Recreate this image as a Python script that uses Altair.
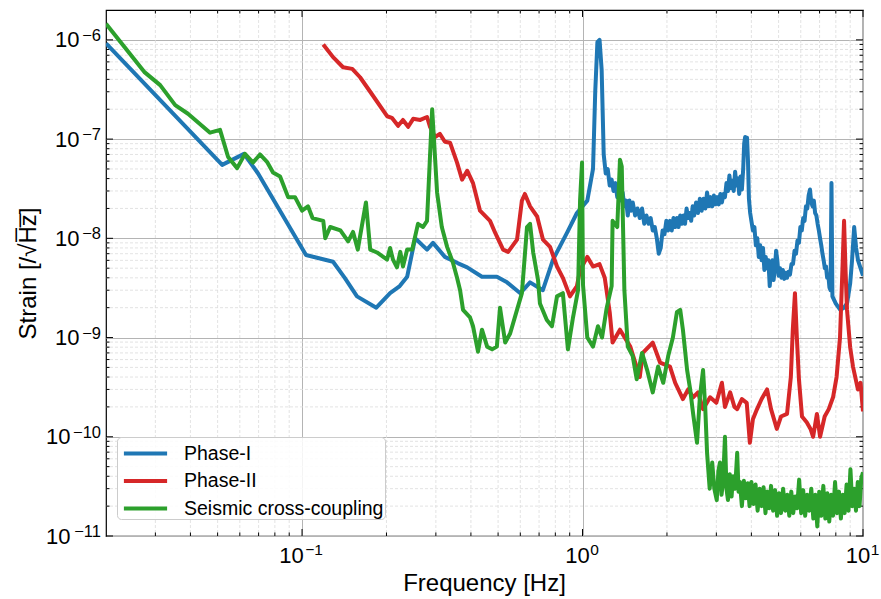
import json
import altair as alt
import pandas as pd

# ---------------- data ----------------
series_names = ["Phase-I", "Phase-II", "Seismic cross-coupling"]
series_colors = ["#1f77b4", "#d62728", "#2ca02c"]

blue_freq = [0.020, 0.0519, 0.0621, 0.0697, 0.1033, 0.129, 0.142, 0.157, 0.184, 0.206,
             0.223, 0.237, 0.253, 0.279, 0.293, 0.323, 0.36, 0.388, 0.438, 0.495,
             0.538, 0.60, 0.65, 0.722, 0.785, 0.881, 0.955, 1.04, 1.09, 1.11,
             1.13, 1.15, 1.17, 1.19, 1.21, 1.23, 1.25, 1.27, 1.29, 1.31,
             1.33, 1.35, 1.37, 1.39, 1.41, 1.43, 1.45, 1.47, 1.49, 1.51,
             1.54, 1.57, 1.60, 1.63, 1.66, 1.69, 1.72, 1.75, 1.78, 1.81,
             1.84, 1.87, 1.90, 1.93, 1.96, 1.99, 2.02, 2.05, 2.08, 2.11,
             2.14, 2.17, 2.20, 2.23, 2.26, 2.29, 2.32, 2.35, 2.38, 2.41,
             2.44, 2.47, 2.50, 2.54, 2.58, 2.62, 2.66, 2.70, 2.74, 2.78,
             2.82, 2.86, 2.90, 2.94, 2.98, 3.02, 3.06, 3.10, 3.14, 3.18,
             3.22, 3.26, 3.30, 3.34, 3.38, 3.42, 3.46, 3.50, 3.54, 3.58,
             3.62, 3.66, 3.70, 3.74, 3.77, 3.80, 3.83, 3.86, 3.89, 3.92,
             3.96, 4.00, 4.05, 4.10, 4.15, 4.20, 4.25, 4.30, 4.35, 4.40,
             4.45, 4.50, 4.55, 4.60, 4.65, 4.70, 4.75, 4.80, 4.85, 4.90,
             4.95, 5.00, 5.06, 5.12, 5.18, 5.24, 5.30, 5.36, 5.42, 5.49,
             5.56, 5.63, 5.70, 5.77, 5.84, 5.91, 5.98, 6.05, 6.12, 6.19,
             6.26, 6.33, 6.40, 6.47, 6.54, 6.61, 6.68, 6.75, 6.82, 6.89,
             6.96, 7.03, 7.10, 7.17, 7.24, 7.31, 7.38, 7.45, 7.52, 7.59,
             7.66, 7.72, 7.78, 8.00, 8.30, 8.55, 8.77, 9.00, 9.14, 9.30,
             9.45, 9.60, 9.80, 10.0]
blue_strain = [9.2e-7, 5.5e-8, 7.1e-8, 4.5e-8, 6.8e-9, 5.8e-9, 4.0e-9, 2.6e-9, 2.0e-9, 2.8e-9,
               3.3e-9, 4.1e-9, 1.0e-8, 7.7e-9, 9.0e-9, 6.5e-9, 5.6e-9, 5.1e-9, 4.1e-9, 4.1e-9,
               3.6e-9, 2.8e-9, 3.6e-9, 3.0e-9, 6.1e-9, 1.14e-8, 1.8e-8, 2.4e-8, 5.0e-8, 3.0e-7,
               9.5e-7, 1.0e-6, 5.0e-7, 7.0e-8, 4.5e-8, 5.0e-8, 3.4e-8, 3.9e-8, 3.0e-8, 3.6e-8,
               2.6e-8, 3.3e-8, 2.4e-8, 2.9e-8, 2.1e-8, 2.4e-8, 1.7e-8, 2.4e-8, 1.9e-8, 2.3e-8,
               1.7e-8, 2.0e-8, 1.6e-8, 2.0e-8, 1.4e-8, 1.7e-8, 1.4e-8, 1.6e-8, 1.2e-8, 1.3e-8,
               1.0e-8, 7.0e-9, 8.0e-9, 1.2e-8, 1.1e-8, 1.5e-8, 1.2e-8, 1.5e-8, 1.2e-8, 1.6e-8,
               1.3e-8, 1.6e-8, 1.3e-8, 1.7e-8, 1.4e-8, 1.7e-8, 1.4e-8, 2.0e-8, 1.6e-8, 1.8e-8,
               1.5e-8, 2.1e-8, 1.7e-8, 2.3e-8, 1.8e-8, 2.5e-8, 1.9e-8, 2.5e-8, 2.0e-8, 2.9e-8,
               2.1e-8, 2.6e-8, 2.1e-8, 2.7e-8, 2.2e-8, 2.6e-8, 2.2e-8, 2.8e-8, 2.3e-8, 2.8e-8,
               2.6e-8, 3.6e-8, 3.0e-8, 4.3e-8, 3.2e-8, 3.8e-8, 3.0e-8, 4.7e-8, 3.4e-8, 4.0e-8,
               2.8e-8, 4.2e-8, 3.1e-8, 5.0e-8, 9.0e-8, 1.05e-7, 8.0e-8, 1.03e-7, 6.0e-8, 2.5e-8,
               1.8e-8, 1.5e-8, 1.2e-8, 1.3e-8, 8.5e-9, 1.0e-8, 6.5e-9, 8.5e-9, 6.0e-9, 8.0e-9,
               4.8e-9, 6.5e-9, 5.0e-9, 6.0e-9, 3.3e-9, 5.0e-9, 6.0e-9, 3.8e-9, 5.0e-9, 7.5e-9,
               6.0e-9, 4.2e-9, 5.0e-9, 4.0e-9, 4.8e-9, 3.9e-9, 4.5e-9, 4.0e-9, 4.6e-9, 4.3e-9,
               5.5e-9, 5.5e-9, 7.5e-9, 7.0e-9, 9.5e-9, 9.0e-9, 1.3e-8, 1.2e-8, 1.6e-8, 1.5e-8,
               2.1e-8, 2.0e-8, 2.7e-8, 3.1e-8, 2.3e-8, 2.1e-8, 2.4e-8, 1.8e-8, 1.7e-8, 1.4e-8,
               1.2e-8, 1.0e-8, 8.5e-9, 7.0e-9, 6.0e-9, 5.0e-9, 5.2e-9, 4.0e-9, 4.3e-9, 3.2e-9,
               3.0e-9, 3.6e-8, 2.6e-9, 2.2e-9, 1.9e-9, 2.0e-9, 2.2e-9, 3.5e-9, 6.0e-9, 1.3e-8,
               8.0e-9, 6.0e-9, 5.0e-9, 4.2e-9]

red_freq = [0.119, 0.129, 0.140, 0.151, 0.161, 0.175, 0.201, 0.209, 0.220, 0.229,
            0.239, 0.249, 0.264, 0.279, 0.286, 0.298, 0.310, 0.323, 0.337, 0.357,
            0.372, 0.388, 0.407, 0.431, 0.468, 0.488, 0.521, 0.543, 0.584, 0.608,
            0.623, 0.650, 0.689, 0.723, 0.766, 0.811, 0.851, 0.902, 0.955, 0.98,
            1.04, 1.09, 1.15, 1.20, 1.25, 1.28, 1.36, 1.48, 1.60, 1.64,
            1.78, 1.89, 2.05, 2.14, 2.28, 2.38, 2.48, 2.58, 2.69, 2.85,
            3.00, 3.14, 3.22, 3.36, 3.48, 3.56, 3.70, 3.85, 3.95, 4.05,
            4.19, 4.35, 4.55, 4.70, 4.93, 5.10, 5.36, 5.53, 5.62, 5.72,
            5.81, 5.91, 6.06, 6.30, 6.50, 6.64, 6.85, 7.03, 7.30, 7.55,
            7.82, 8.05, 8.28, 8.45, 8.56, 8.66, 8.77, 9.00, 9.21, 9.59, 9.80, 10.0]
red_strain = [9.0e-7, 6.7e-7, 5.3e-7, 5.1e-7, 4.2e-7, 3.0e-7, 1.7e-7, 1.64e-7, 1.36e-7, 1.56e-7,
              1.33e-7, 1.6e-7, 1.56e-7, 1.67e-7, 1.33e-7, 1.05e-7, 1.13e-7, 9.4e-8, 9.2e-8, 5.8e-8,
              3.9e-8, 4.8e-8, 3.6e-8, 1.9e-8, 1.5e-8, 1.14e-8, 7.7e-9, 7.3e-9, 9.7e-9, 2.4e-8,
              2.8e-8, 2.1e-8, 1.66e-8, 9.7e-9, 8.2e-9, 5.2e-9, 4.0e-9, 2.6e-9, 3.3e-9, 4.8e-9,
              6.5e-9, 5.2e-9, 5.5e-9, 4.0e-9, 1.8e-9, 8.9e-10, 1.2e-9, 8.1e-10, 4.0e-10, 7.0e-10,
              8.9e-10, 5.6e-10, 5.1e-10, 3.5e-10, 2.4e-10, 3.0e-10, 2.5e-10, 2.8e-10, 1.9e-10, 2.5e-10,
              2.2e-10, 3.5e-10, 2.0e-10, 2.8e-10, 2.0e-10, 1.9e-10, 2.4e-10, 2.2e-10, 8.7e-11, 1.5e-10,
              1.9e-10, 2.4e-10, 3.0e-10, 1.9e-10, 1.2e-10, 1.6e-10, 1.7e-10, 4.0e-10, 1.2e-9, 2.8e-9,
              1.0e-9, 3.8e-10, 1.6e-10, 1.4e-10, 1.2e-10, 1.0e-10, 1.7e-10, 1.0e-10, 1.6e-10, 1.9e-10,
              2.5e-10, 4.0e-10, 1.0e-9, 5.0e-9, 1.5e-8, 5.0e-9, 1.9e-9, 8.0e-10, 5.1e-10, 3.0e-10, 3.5e-10, 1.8e-10]

green_freq = [0.020, 0.0275, 0.0312, 0.0353, 0.0392, 0.0470, 0.0510, 0.0545, 0.0587, 0.0626,
              0.0669, 0.0708, 0.0750, 0.0788, 0.0835, 0.0892, 0.0944, 0.100, 0.105, 0.109,
              0.119, 0.121, 0.126, 0.137, 0.146, 0.152, 0.158, 0.169, 0.175, 0.185,
              0.201, 0.206, 0.211, 0.218, 0.224, 0.229, 0.237, 0.247, 0.259, 0.270,
              0.279, 0.291, 0.303, 0.315, 0.329, 0.345, 0.357, 0.366, 0.375, 0.397,
              0.407, 0.424, 0.438, 0.457, 0.476, 0.495, 0.508, 0.530, 0.552, 0.584,
              0.608, 0.634, 0.650, 0.667, 0.694, 0.705, 0.746, 0.778, 0.811, 0.851,
              0.887, 0.925, 0.964, 0.980, 0.996, 1.004, 1.04, 1.09, 1.135, 1.174,
              1.22, 1.27, 1.28, 1.33, 1.36, 1.38, 1.41, 1.45, 1.51, 1.56,
              1.63, 1.70, 1.78, 1.86, 1.94, 2.02, 2.10, 2.17, 2.23, 2.28,
              2.36, 2.42, 2.48, 2.56, 2.62, 2.69, 2.74, 2.78, 2.84, 2.90,
              2.95, 3.01, 3.05, 3.09, 3.13, 3.17, 3.22, 3.26, 3.30, 3.35,
              3.40, 3.44, 3.50, 3.56, 3.60, 3.64, 3.70, 3.76, 3.82, 3.88,
              3.94, 4.00, 4.07, 4.14, 4.21, 4.28, 4.35, 4.42, 4.49, 4.56,
              4.63, 4.70, 4.78, 4.86, 4.94, 5.02, 5.10, 5.19, 5.28, 5.37,
              5.46, 5.55, 5.64, 5.73, 5.82, 5.92, 6.02, 6.12, 6.22, 6.32,
              6.43, 6.54, 6.65, 6.76, 6.87, 6.98, 7.10, 7.22, 7.34, 7.46,
              7.58, 7.70, 7.82, 7.95, 8.08, 8.21, 8.34, 8.47, 8.60, 8.74,
              8.88, 9.02, 9.16, 9.30, 9.44, 9.58, 9.72, 9.86, 10.0]
green_strain = [1.45e-6, 4.7e-7, 3.5e-7, 2.2e-7, 1.8e-7, 1.16e-7, 1.24e-7, 6.6e-8, 5.1e-8, 7.1e-8,
                5.8e-8, 7.0e-8, 5.9e-8, 4.6e-8, 4.2e-8, 2.6e-8, 2.6e-8, 1.9e-8, 2.1e-8, 1.6e-8,
                1.5e-8, 1.0e-8, 1.3e-8, 1.2e-8, 9.3e-9, 1.16e-8, 7.7e-9, 2.3e-8, 7.7e-9, 7.2e-9,
                6.1e-9, 8.0e-9, 6.1e-9, 5.1e-9, 7.3e-9, 5.2e-9, 7.7e-9, 7.7e-9, 1.4e-8, 1.3e-8,
                1.5e-8, 2.0e-7, 2.9e-8, 1.3e-8, 8.2e-9, 5.7e-9, 4.0e-9, 3.0e-9, 1.9e-9, 1.6e-9,
                1.3e-9, 7.2e-10, 1.2e-9, 8.1e-10, 7.6e-10, 8.1e-10, 2.0e-9, 8.9e-10, 1.1e-9, 1.9e-9,
                2.8e-9, 1.3e-8, 1.4e-8, 7.2e-9, 3.8e-9, 2.2e-9, 1.5e-9, 1.3e-9, 2.6e-9, 2.8e-9,
                7.6e-10, 1.6e-9, 3.0e-9, 2.4e-8, 5.8e-8, 3.4e-9, 1.0e-9, 8.1e-10, 1.3e-9, 1.0e-9,
                2.0e-9, 3.3e-9, 1.5e-8, 1.3e-8, 6.2e-8, 5.3e-8, 3.0e-9, 8.1e-10, 6.5e-10, 3.8e-10,
                7.0e-10, 4.7e-10, 2.8e-10, 5.1e-10, 3.5e-10, 6.5e-10, 1.0e-9, 1.8e-9, 1.9e-9, 1.2e-9,
                4.7e-10, 3.0e-10, 1.7e-10, 8.7e-11, 2.5e-10, 4.7e-10, 1.9e-10, 6.9e-11, 3.0e-11, 5.5e-11,
                3.0e-11, 2.3e-11, 4.5e-11, 5.5e-11, 2.6e-11, 3.5e-11, 1.0e-10, 3.0e-11, 2.3e-11, 4.2e-11,
                2.5e-11, 4.0e-11, 3.0e-11, 6.9e-11, 2.8e-11, 3.5e-11, 2.0e-11, 3.6e-11, 2.4e-11, 3.4e-11,
                2.0e-11, 3.5e-11, 2.1e-11, 3.3e-11, 1.8e-11, 3.0e-11, 2.0e-11, 3.1e-11, 1.7e-11, 2.8e-11,
                1.9e-11, 3.2e-11, 1.8e-11, 2.9e-11, 1.6e-11, 2.7e-11, 1.7e-11, 3.0e-11, 1.8e-11, 2.6e-11,
                1.6e-11, 2.8e-11, 1.7e-11, 2.5e-11, 1.9e-11, 3.7e-11, 1.7e-11, 2.9e-11, 1.6e-11, 2.6e-11,
                1.8e-11, 3.0e-11, 1.5e-11, 2.6e-11, 1.25e-11, 2.8e-11, 1.6e-11, 3.2e-11, 1.5e-11, 2.7e-11,
                1.4e-11, 2.6e-11, 1.6e-11, 3.5e-11, 1.7e-11, 2.8e-11, 1.5e-11, 2.6e-11, 1.7e-11, 3.3e-11,
                1.8e-11, 4.7e-11, 2.0e-11, 3.0e-11, 1.8e-11, 3.5e-11, 2.0e-11, 3.8e-11, 4.4e-11]

x_domain = [0.02, 10]
y_domain = [1e-11, 2e-6]
x_major = [0.1, 1, 10]
x_major_exp = ["−1", "0", "1"]
y_major = [1e-11, 1e-10, 1e-9, 1e-8, 1e-7, 1e-6]
y_major_exp = ["−11", "−10", "−9", "−8", "−7", "−6"]
x_minor = [0.03, 0.04, 0.05, 0.06, 0.07, 0.08, 0.09,
           0.2, 0.3, 0.4, 0.5, 0.6, 0.7, 0.8, 0.9,
           2, 3, 4, 5, 6, 7, 8, 9]
y_minor = [m * 10.0 ** e for e in range(-11, -6) for m in range(2, 10)]

# ---------------- build tables ----------------
rows = []
for name, fs, vs in zip(series_names,
                        [blue_freq, red_freq, green_freq],
                        [blue_strain, red_strain, green_strain]):
    for f, v in zip(fs, vs):
        rows.append({"series": name, "f": f, "s": v})
df = pd.DataFrame(rows)

W, H = 757, 526
FONT = "Liberation Sans"
xscale = alt.Scale(type="log", domain=x_domain, nice=False)
yscale = alt.Scale(type="log", domain=y_domain, nice=False)

x_axis = alt.Axis(values=x_major, labelExpr="'10'", title="Frequency [Hz]",
                  grid=True, gridColor="#b4b4b4", gridWidth=1,
                  labelPadding=9, labelAlign="center",
                  labelOffset={"condition": {"test": "datum.value < 0.5", "value": -11}, "value": -5.5},
                  titleX=378, titleY=54, titleBaseline="alphabetic")
y_axis = alt.Axis(values=y_major, labelExpr="'10'", title="Strain [/√H\u0305z\u0305]",
                  grid=True, gridColor="#b4b4b4", gridWidth=1,
                  labelPadding={"condition": {"test": "datum.value < 5e-10", "value": 36}, "value": 27},
                  labelBaseline="middle",
                  titleX=-78, titleY=263, titleAngle=-90,
                  titleBaseline="middle", titleAlign="center")

minor_style = dict(color="#dcdcdc", strokeDash=[3, 2], strokeWidth=0.8)
xminor_df = pd.DataFrame({"f": x_minor})
yminor_df = pd.DataFrame({"s": y_minor})
xmajor_df = pd.DataFrame({"f": x_major})
ymajor_df = pd.DataFrame({"s": y_major})

xminor = alt.Chart(xminor_df).mark_rule(**minor_style).encode(
    x=alt.X("f:Q", scale=xscale, axis=x_axis))
yminor = alt.Chart(yminor_df).mark_rule(**minor_style).encode(
    y=alt.Y("s:Q", scale=yscale, axis=y_axis))

# inward ticks on all four sides (matplotlib style)
tick_style = dict(color="black", strokeWidth=1)
def xticks(data, length):
    bottom = alt.Chart(data).mark_rule(**tick_style).encode(
        x=alt.X("f:Q", scale=xscale, axis=x_axis), y=alt.value(H), y2=alt.value(H - length))
    top = alt.Chart(data).mark_rule(**tick_style).encode(
        x=alt.X("f:Q", scale=xscale, axis=x_axis), y=alt.value(0), y2=alt.value(length))
    return [bottom, top]
def yticks(data, length):
    left = alt.Chart(data).mark_rule(**tick_style).encode(
        y=alt.Y("s:Q", scale=yscale, axis=y_axis), x=alt.value(0), x2=alt.value(length))
    right = alt.Chart(data).mark_rule(**tick_style).encode(
        y=alt.Y("s:Q", scale=yscale, axis=y_axis), x=alt.value(W), x2=alt.value(W - length))
    return [left, right]
tick_layers = xticks(xmajor_df, 7) + xticks(xminor_df, 3.5) + yticks(ymajor_df, 7) + yticks(yminor_df, 3.5)

legend_line = "M-1.6,0H1.6"
lines = alt.Chart(df).mark_line(strokeWidth=4, clip=True, strokeJoin="round").encode(
    x=alt.X("f:Q", scale=xscale, axis=x_axis),
    y=alt.Y("s:Q", scale=yscale, axis=y_axis),
    color=alt.Color("series:N",
                    scale=alt.Scale(domain=series_names, range=series_colors),
                    legend=alt.Legend(title=None, orient="none", legendX=11, legendY=427,
                                      symbolType=legend_line, symbolStrokeWidth=4,
                                      symbolSize=729, symbolOffset=12,
                                      labelFontSize=19.5, labelFont=FONT,
                                      labelColor="black", labelOffset=23, labelLimit=400,
                                      padding=1, rowPadding=2.5,
                                      strokeColor="#cccccc", fillColor="rgba(255,255,255,0.85)",
                                      cornerRadius=4)),
)

x_exp = alt.Chart(pd.DataFrame({"f": x_major, "e": x_major_exp})).mark_text(
    align="center", baseline="alphabetic", dx=12, fontSize=15.5, font=FONT, color="black"
).encode(x=alt.X("f:Q", scale=xscale, axis=x_axis), y=alt.value(545), text="e:N")

y_exp = alt.Chart(pd.DataFrame({"s": y_major, "e": y_major_exp})).mark_text(
    align="right", baseline="alphabetic", dy=1, fontSize=16.5, font=FONT, color="black"
).encode(x=alt.value(-5), y=alt.Y("s:Q", scale=yscale, axis=y_axis), text="e:N")

chart = alt.layer(xminor, yminor, *tick_layers, lines, x_exp, y_exp).properties(
    width=W, height=H,
    padding={"left": 106, "top": 10, "right": 18, "bottom": 63},
    autosize=alt.AutoSizeParams(type="none"),
    background="white",
).configure_view(
    stroke="black", strokeWidth=1.2
).configure_axis(
    labelFont=FONT, titleFont=FONT, labelFontSize=22, titleFontSize=24,
    titleFontWeight="normal", labelColor="black", titleColor="black",
    domain=False, ticks=False,
)

chart.save("out.html", embed_options={"renderer": "svg", "actions": False})
